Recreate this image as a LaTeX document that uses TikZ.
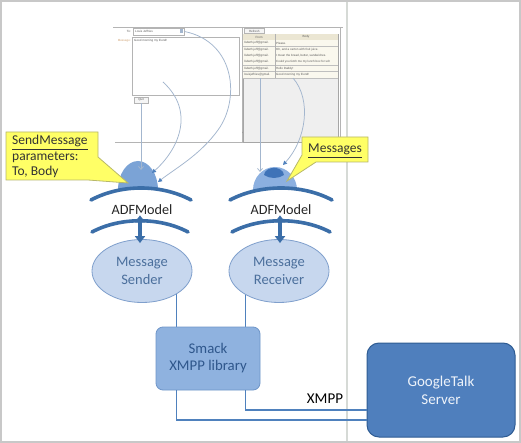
\documentclass[tikz,border=0pt]{standalone}
\usepackage{fontspec}
\setmainfont{Carlito}
\newfontfamily\uifont{Liberation Sans}
\usetikzlibrary{shapes.geometric,arrows.meta,calc}
\pgfdeclarelayer{bg}
\pgfdeclarelayer{conns}
\pgfsetlayers{bg,conns,main}
\definecolor{framegray}{HTML}{C8C8C8}
\definecolor{vgray}{HTML}{D6DAD6}
\definecolor{uiline}{HTML}{B4B4B4}
\definecolor{uitext}{HTML}{5A5A5A}
\definecolor{connC}{HTML}{4F81BD}
\definecolor{arcC}{HTML}{3B6EA8}
\definecolor{domeL}{HTML}{7BA3D6}
\definecolor{domeR}{HTML}{8CB0E0}
\definecolor{domeCap}{HTML}{3F73B8}
\definecolor{ellF}{HTML}{C7D7EE}
\definecolor{ellB}{HTML}{7F9FCC}
\definecolor{ellT}{HTML}{4B6F9C}
\definecolor{smackF}{HTML}{8FB2DF}
\definecolor{smackB}{HTML}{6F96C9}
\definecolor{smackT}{HTML}{2F578C}
\definecolor{gF}{HTML}{4F7FBD}
\definecolor{gB}{HTML}{2F5C93}
\definecolor{gT}{HTML}{EEF3FA}
\definecolor{callF}{HTML}{FFFF66}
\definecolor{callB}{HTML}{B8B86A}
\definecolor{curveC}{HTML}{A3B6CE}
\definecolor{hdrF}{HTML}{EBE6D3}
\definecolor{rowF}{HTML}{FAF8EE}
\definecolor{tblF}{HTML}{EFEFEF}
\newcommand{\fsz}[1]{\fontsize{#1}{#1}\selectfont}
\tikzset{
  ellip/.style={ellipse, draw=ellB, fill=ellF, line width=0.8pt, minimum width=100, minimum height=63,
    inner sep=0pt, align=center, text=ellT, font=\fontsize{14.5}{17.5}\selectfont},
  smackbox/.style={rectangle, rounded corners=7pt, draw=smackB, fill=smackF, line width=0.8pt,
    minimum width=104, minimum height=63, inner sep=0pt, align=center, text=smackT,
    font=\fontsize{14.8}{17}\selectfont},
  gbox/.style={rectangle, rounded corners=12pt, draw=gB, fill=gF, line width=1pt,
    minimum width=148, minimum height=94, inner sep=0pt, align=center, text=gT,
    font=\fontsize{15}{18}\selectfont},
  adf/.style={inner sep=0pt, font=\fontsize{14.2}{16}\selectfont, text=black!85},
  conn/.style={draw=connC, line width=1.5pt},
  arcst/.style={draw=arcC, line width=3.6pt, line cap=round},
  dblarrow/.style={draw=arcC, line width=3.6pt, {Triangle[width=10pt,length=7pt]}-{Triangle[width=10pt,length=7pt]}},
  uicurve/.style={draw=curveC, line width=0.75pt},
  bluetip/.style={-{Triangle[length=4pt,width=4pt,color=connC,fill=connC]}},
  bartip/.style={-{Straight Barb[length=3pt,width=5pt]}},
  uitxt/.style={inner sep=0pt, font=\uifont\fsz{3}, text=uitext},
  uibox/.style={draw=uiline, line width=0.5pt, fill=white, inner sep=0pt},
  callout/.style={fill=callF, draw=callB, line width=0.8pt, line join=miter},
  calltxt/.style={inner sep=0pt, font=\fontsize{13.5}{15.5}\selectfont, text=black!80, align=left},
}
\begin{document}
\begin{tikzpicture}[x=1pt,y=-1pt]
\useasboundingbox (0,0) rectangle (521,443);
\begin{pgfonlayer}{bg}
  \fill[white] (0,0) rectangle (521,443);
  \draw[vgray, line width=1.4pt] (347,0) -- (347,443);
  \draw[framegray, line width=1.4pt] (1,1) rectangle (520,442);
\end{pgfonlayer}

% ---------- UI screenshot ----------
\draw[uiline, line width=0.6pt] (113,27) -- (343,27);
\draw[uiline, line width=0.6pt] (115,142) -- (242,142) -- (242,27);
\draw[uiline, line width=0.6pt] (245,27) -- (245,142) -- (340,142) -- (340,27);
\fill[black!60] (242.5,132) -- (244.5,132) -- (243.5,134.5) -- cycle;
\node[uitxt, anchor=east] (tolbl) at (131,31.5) {To:};
\node[uibox, minimum width=51, minimum height=7, anchor=west] (combo) at (133,31.5) {};
\node[uitxt, anchor=west] (combotxt) at (135,31.5) {Louis Jeffries};
\fill[curveC] (179.5,29.5) rectangle (183,33.5);
\node[uitxt, anchor=east, text=brown!70] (msglbl) at (131,40.5) {Message:};
\node[uibox, minimum width=107, minimum height=58, anchor=north west] (textarea) at (132,37) {};
\node[uitxt, anchor=west] (msgtxt) at (134,40.5) {Good morning my friend!};
\node[uibox, fill=black!4, minimum width=14, minimum height=6, font=\uifont\fsz{3}, text=uitext] (quit) at (141,100) {Quit};
\node[uibox, fill=black!4, minimum width=20, minimum height=5.5, font=\uifont\fsz{3}, text=uitext, anchor=north west] (refresh) at (244,28) {Refresh};
\node[uibox, fill=tblF, draw=black!35, minimum width=95, minimum height=108, anchor=north west] (table) at (243,34) {};
\fill[hdrF] (243.3,34.3) rectangle (337.7,40);
\draw[black!30, line width=0.3pt] (243,40) -- (338,40);
\node[uitxt] (hfrom) at (259,37.2) {From};
\node[uitxt] (hbody) at (306,37.2) {Body};
\foreach \i/\f/\b in {0/lisbeth.jeff@gmail./Please.,
                      1/lisbeth.jeff@gmail./{Oh, and a carton with fruit juice.},
                      2/lisbeth.jeff@gmail./{I mean the bread, butter, sandwiches.},
                      3/lisbeth.jeff@gmail./{Could you fetch me my lunch box for sch},
                      4/lisbeth.jeff@gmail./{Hello Daddy!},
                      5/louisjeffries@gmail./{Good morning my friend!}}{
  \fill[rowF] (243.3,{40+6.33*\i+0.3}) rectangle (337.7,{40+6.33*(\i+1)});
  \draw[black!25, line width=0.3pt] (243,{40+6.33*(\i+1)}) -- (338,{40+6.33*(\i+1)});
  \node[uitxt, anchor=west] at (244,{40+6.33*(\i+0.5)}) {\f};
  \node[uitxt, anchor=west] at (276,{40+6.33*(\i+0.5)}) {\b};
}
\draw[black!30, line width=0.3pt] (275,34) -- (275,78);

% ---------- domes ----------
\coordinate (domeLc) at (138,190);
\coordinate (domeRc) at (275,190);
\fill[domeL] ($(domeLc)+(20,0)$) arc[start angle=0, end angle=-180, x radius=20, y radius=29] -- cycle;
\fill[domeR] ($(domeRc)+(22,0)$) arc[start angle=0, end angle=-180, x radius=22, y radius=23] -- cycle;
\fill[domeCap] (264,175) .. controls (265,165.5) and (283,165.5) .. (284,175) .. controls (278,179) and (270,179) .. cycle;

% ---------- connectors from UI to domes ----------
\coordinate (tL1) at (141,170);
\coordinate (tL2) at (152,173);
\coordinate (tL3) at (158,182);
\coordinate (tR1) at (260,172);
\coordinate (tR2) at (283,165);
\coordinate (rowFrom) at (260,78);
\coordinate (rowBody) at (293,78);
\coordinate (taPt) at (163,82);
\draw[uicurve, bartip] (quit.south) -- (tL1);
\draw[uicurve, bluetip] (taPt) .. controls (196,112) and (178,150) .. (tL2);
\draw[uicurve, bluetip] (combo.east) .. controls (236,42) and (240,100) .. (218,130) .. controls (200,155) and (176,168) .. (tL3);
\draw[uicurve, bartip] (rowFrom) -- (tR1);
\draw[uicurve, bluetip] (rowBody) .. controls (312,100) and (306,140) .. (tR2);

% ---------- ADFModel ----------
\draw[arcst] (91,200) .. controls (121,184) and (161,184) .. (191,200);
\draw[arcst] (230,200) .. controls (260,184) and (302,184) .. (332,200);
\node[adf, anchor=base] (adfL) at (142,215) {ADFModel};
\node[adf, anchor=base] (adfR) at (281,215) {ADFModel};
\draw[arcst] (92,232) .. controls (120,217) and (160,217) .. (188,232);
\draw[arcst] (232,232) .. controls (260,217) and (302,217) .. (330,232);

% ---------- main nodes ----------
\node[ellip] (sender) at (142,271) {Message\\Sender};
\node[ellip] (receiver) at (279,271) {Message\\Receiver};
\node[smackbox] (smack) at (208,358.5) {Smack\\XMPP library};
\node[gbox] (gtalk) at (441,390) {GoogleTalk\\Server};

\draw[dblarrow] (adfL.south -| 140,0) -- ($(sender.north -| 140,0)+(0,4)$);
\draw[dblarrow] (adfR.south -| 280,0) -- ($(receiver.north -| 280,0)+(0,4)$);

\begin{pgfonlayer}{conns}
  \draw[conn] ($(smack.north west)+(21,0)$) -- ($(smack.north west |- sender.center)+(21,0)$);
  \draw[conn] ($(smack.north east)+(-15,0)$) -- ($(smack.north east |- receiver.center)+(-15,0)$);
\end{pgfonlayer}
\draw[conn] ($(smack.south east)+(-15,0)$) |- ($(gtalk.west)+(0,20)$);
\draw[conn] ($(smack.south west)+(21,0)$) |- ($(gtalk.west)+(0,30)$);
\node[inner sep=0pt, font=\fontsize{15}{16}\selectfont, anchor=base] (xmpp) at (325,403) {XMPP};

% ---------- callouts ----------
\draw[callout] (6,132) -- (98,132) -- (98,157) -- (128,183) -- (88,180) -- (6,180) -- cycle;
\node[calltxt, anchor=base west] (sendtxt) at (12,176) {\underline{SendMessage}\\parameters:\\To, Body};
\draw[callout] (302,137) -- (368,137) -- (368,162) -- (316,162) -- (287,181) -- (302,155) -- cycle;
\node[calltxt, anchor=base] (msgstxt) at (335,153) {\underline{Messages}};
\end{tikzpicture}
\end{document}
